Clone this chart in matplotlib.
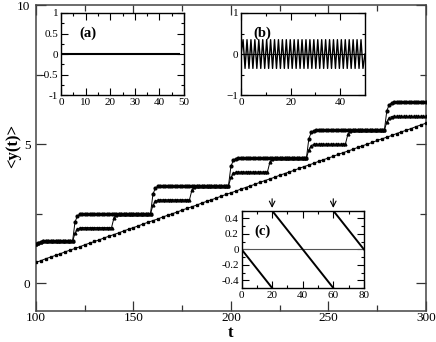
import numpy as np
import matplotlib
matplotlib.use("Agg")
import matplotlib.pyplot as plt
from matplotlib.ticker import MultipleLocator

plt.rcParams['font.family'] = 'serif'
plt.rcParams['font.serif'] = ['Liberation Serif', 'DejaVu Serif']

# ---------------- data ----------------
# main panel: sampling times
stair_t = np.arange(100, 300.01, 1.25)
line_t = np.arange(100, 300.01, 2.5)

# upper staircase (circles)
upper_y = ([1.40, 1.46, 1.49] + [1.5] * 13
           + [2.20, 2.42, 2.48] + [2.5] * 29
           + [3.20, 3.42, 3.48] + [3.5] * 29
           + [4.20, 4.42, 4.48] + [4.5] * 29
           + [5.20, 5.42, 5.48] + [5.5] * 29
           + [6.20, 6.42, 6.48] + [6.5] * 14)

# middle staircase (triangles)
middle_y = ([1.40, 1.46, 1.49] + [1.5] * 13
            + [1.80, 1.95, 1.99] + [2.0] * 13 + [2.35, 2.46, 2.49] + [2.5] * 13
            + [2.80, 2.95, 2.99] + [3.0] * 13 + [3.35, 3.46, 3.49] + [3.5] * 13
            + [3.80, 3.95, 3.99] + [4.0] * 13 + [4.35, 4.46, 4.49] + [4.5] * 13
            + [4.80, 4.95, 4.99] + [5.0] * 13 + [5.35, 5.46, 5.49] + [5.5] * 13
            + [5.80, 5.95, 5.99] + [6.0] * 14)

# lower linear drift (squares)
line_y = [0.75, 0.81, 0.88, 0.94, 1.00, 1.06, 1.13, 1.19, 1.25, 1.31, 1.38, 1.44,
          1.50, 1.56, 1.63, 1.69, 1.75, 1.81, 1.88, 1.94, 2.00, 2.06, 2.13, 2.19,
          2.25, 2.31, 2.38, 2.44, 2.50, 2.56, 2.63, 2.69, 2.75, 2.81, 2.88, 2.94,
          3.00, 3.06, 3.13, 3.19, 3.25, 3.31, 3.38, 3.44, 3.50, 3.56, 3.63, 3.69,
          3.75, 3.81, 3.88, 3.94, 4.00, 4.06, 4.13, 4.19, 4.25, 4.31, 4.38, 4.44,
          4.50, 4.56, 4.63, 4.69, 4.75, 4.81, 4.88, 4.94, 5.00, 5.06, 5.13, 5.19,
          5.25, 5.31, 5.38, 5.44, 5.50, 5.56, 5.63, 5.69, 5.75]

# inset (a)
a_t = [0.5, 48]
a_y = [0.0, 0.0]

# inset (b): zigzag
b_y = [0.0] + [0.35, -0.35] * 31 + [0.0]
b_t = np.linspace(0, 50, len(b_y))

# inset (c)
c_seg1_t = [0, 20]
c_seg1_y = [0.0, -0.5]
c_seg2_t = [20, 60]
c_seg2_y = [0.5, -0.5]
c_seg3_t = [60, 80]
c_seg3_y = [0.5, 0.0]
c_arrows_t = [20, 60]

# ---------------- figure ----------------
fig = plt.figure(figsize=(4.36, 3.42), dpi=100)
ax = fig.add_axes([0.0826, 0.0906, 0.894, 0.8947])

ms = 2.0
ax.plot(stair_t, middle_y, color='black', lw=0.7, marker='^', ms=ms, zorder=3)
ax.plot(stair_t, upper_y, color='black', lw=0.7, marker='o', ms=ms, zorder=4)
ax.plot(line_t, line_y, color='black', lw=0.7, marker='s', ms=1.8, zorder=3)

ax.set_xlim(100, 300)
ax.set_ylim(-1, 10)
ax.xaxis.set_major_locator(MultipleLocator(50))
ax.xaxis.set_minor_locator(MultipleLocator(25))
ax.yaxis.set_major_locator(MultipleLocator(5))
ax.yaxis.set_minor_locator(MultipleLocator(2.5))
ax.tick_params(which='both', direction='in', top=True, right=True, labelsize=9.5,
               color='#333333')
ax.tick_params(which='major', length=7, width=0.9)
ax.tick_params(which='minor', length=4, width=0.9)
ax.tick_params(axis='x', pad=1)
ax.tick_params(axis='y', pad=4)
for s in ax.spines.values():
    s.set_color('#444444')
    s.set_linewidth(1.1)
ax.set_xlabel('t', fontsize=12, fontweight='bold', va='center')
ax.xaxis.set_label_coords(0.5, -0.071)
ax.set_ylabel('<y(t)>', fontsize=12, fontweight='bold', va='center')
ax.yaxis.set_label_coords(-0.06, 0.54)


def style_inset(a, fs=8):
    a.tick_params(which='both', direction='in', top=True, right=True, labelsize=fs,
                  pad=2)
    a.tick_params(which='major', length=5, width=0.8)
    a.tick_params(which='minor', length=2.5, width=0.8)
    for s in a.spines.values():
        s.set_linewidth(1.0)
        s.set_color('black')


# inset (a)
axa = fig.add_axes([0.140, 0.722, 0.282, 0.240])
axa.plot(a_t, a_y, color='black', lw=1.5)
axa.set_xlim(0, 50)
axa.set_ylim(-1, 1)
axa.xaxis.set_major_locator(MultipleLocator(10))
axa.xaxis.set_minor_locator(MultipleLocator(5))
axa.yaxis.set_minor_locator(MultipleLocator(0.25))
axa.set_yticks([-1, -0.5, 0, 0.5, 1])
axa.set_yticklabels(['-1', '-0.5', '0', '0.5', '1'])
style_inset(axa)
axa.text(0.22, 0.756, '(a)', transform=axa.transAxes, fontsize=10.5,
         fontweight='bold', ha='center', va='center')

# inset (b)
axb = fig.add_axes([0.553, 0.722, 0.284, 0.240])
axb.axhline(0, color='black', lw=0.8)
axb.plot(b_t, b_y, color='black', lw=1.0)
axb.set_xlim(0, 50)
axb.set_ylim(-1, 1)
axb.xaxis.set_major_locator(MultipleLocator(20))
axb.xaxis.set_minor_locator(MultipleLocator(10))
axb.yaxis.set_major_locator(MultipleLocator(1))
axb.yaxis.set_minor_locator(MultipleLocator(0.5))
style_inset(axb)
axb.text(0.175, 0.756, '(b)', transform=axb.transAxes, fontsize=10.5,
         fontweight='bold', ha='center', va='center')

# inset (c)
axc = fig.add_axes([0.554, 0.158, 0.2805, 0.226])
axc.axhline(0, color='#555555', lw=0.8)
axc.plot(c_seg1_t, c_seg1_y, color='black', lw=1.4)
axc.plot(c_seg2_t, c_seg2_y, color='black', lw=1.4)
axc.plot(c_seg3_t, c_seg3_y, color='black', lw=1.4)
axc.set_xlim(0, 80)
axc.set_ylim(-0.5, 0.5)
axc.xaxis.set_major_locator(MultipleLocator(20))
axc.xaxis.set_minor_locator(MultipleLocator(10))
axc.yaxis.set_minor_locator(MultipleLocator(0.1))
axc.set_yticks([-0.4, -0.2, 0, 0.2, 0.4])
axc.set_yticklabels(['-0.4', '-0.2', '0', '0.2', '0.4'])
style_inset(axc)
for xa in c_arrows_t:
    axc.annotate('', xy=(xa, 0.5), xytext=(xa, 0.69),
                 arrowprops=dict(arrowstyle='->', color='black', lw=0.8),
                 annotation_clip=False)
axc.text(0.17, 0.74, '(c)', transform=axc.transAxes, fontsize=10.5,
         fontweight='bold', ha='center', va='center')

fig.savefig('out.png', dpi=100)
